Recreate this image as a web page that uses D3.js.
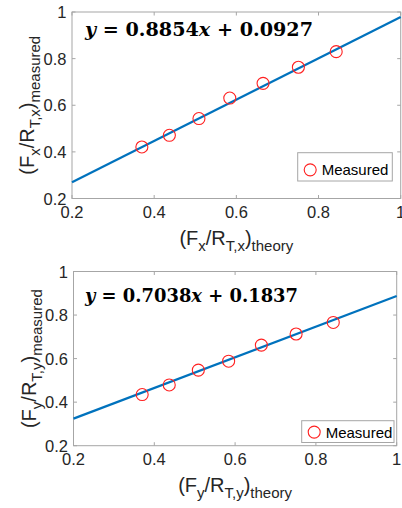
<!DOCTYPE html>
<html><head><meta charset="utf-8">
<script src="https://cdn.jsdelivr.net/npm/d3@7"></script>
<style>body{margin:0;background:#fff}svg{display:block}</style>
</head><body>
<script>
// ---- data ----
const ticks = [0.2, 0.4, 0.6, 0.8, 1];
const tickLabels = ["0.2", "0.4", "0.6", "0.8", "1"];
const theoryX = [0.37, 0.437, 0.509, 0.584, 0.665, 0.751, 0.843];
const measuredX = [0.421, 0.471, 0.543, 0.631, 0.694, 0.763, 0.83];
const theoryY = [0.37, 0.437, 0.509, 0.584, 0.665, 0.751, 0.843];
const measuredY = [0.435, 0.479, 0.547, 0.588, 0.662, 0.713, 0.766];
const fitX = { slope: 0.8854, intercept: 0.0927, label: ["0.8854", "0.0927"] };
const fitY = { slope: 0.7038, intercept: 0.1837, label: ["0.7038", "0.1837"] };
const legendLabel = "Measured";

const panels = [
  { xs: theoryX, ys: measuredX, fit: fitX, sub: "x",
    box: { x0: 72, x1: 400.7, y0: 198.5, y1: 12 },
    eq: { x: 85, y: 36, w: 228 }, leg: { x: 297.7, y: 152.7, w: 94.6, h: 28.3, dy: 3, ty: 8.5 } },
  { xs: theoryY, ys: measuredY, fit: fitY, sub: "y",
    box: { x0: 73.5, x1: 396.7, y0: 445.7, y1: 271.5 },
    eq: { x: 85, y: 302, w: 213 }, leg: { x: 301.7, y: 420.7, w: 92.3, h: 21.8, dy: 0.5, ty: 6 } }
];

const W = 402, H = 508;
const svg = d3.select("body").append("svg").attr("width", W).attr("height", H);
const font = "'Liberation Sans', Arial, Helvetica, sans-serif";
const textCol = "#262626";
const axisCol = "#a6a6a6";

function addLabel(sel, sub, tail) {
  sel.append("tspan").text("(F");
  sel.append("tspan").attr("font-size", 15).attr("dy", 6).text(sub);
  sel.append("tspan").attr("dy", -6).text("/R");
  sel.append("tspan").attr("font-size", 15).attr("dy", 6).text("T," + sub);
  sel.append("tspan").attr("dy", -6).text(")");
  sel.append("tspan").attr("font-size", 15).attr("dy", 6).text(tail);
}

panels.forEach(p => {
  const b = p.box;
  const x = d3.scaleLinear().domain([0.2, 1]).range([b.x0, b.x1]);
  const y = d3.scaleLinear().domain([0.2, 1]).range([b.y0, b.y1]);
  const g = svg.append("g");

  // box
  g.append("rect").attr("x", b.x0).attr("y", b.y1).attr("width", b.x1 - b.x0).attr("height", b.y0 - b.y1)
    .attr("fill", "#fff").attr("stroke", axisCol).attr("stroke-width", 1);

  // ticks (inward, on all sides)
  const tl = 3.5;
  ticks.forEach((t, i) => {
    g.append("line").attr("x1", x(t)).attr("x2", x(t)).attr("y1", b.y0).attr("y2", b.y0 - tl).attr("stroke", axisCol);
    g.append("line").attr("x1", x(t)).attr("x2", x(t)).attr("y1", b.y1).attr("y2", b.y1 + tl).attr("stroke", axisCol);
    g.append("line").attr("y1", y(t)).attr("y2", y(t)).attr("x1", b.x0).attr("x2", b.x0 + tl).attr("stroke", axisCol);
    g.append("line").attr("y1", y(t)).attr("y2", y(t)).attr("x1", b.x1).attr("x2", b.x1 - tl).attr("stroke", axisCol);
    g.append("text").attr("x", x(t)).attr("y", b.y0 + 19.5).attr("text-anchor", "middle")
      .attr("font-family", font).attr("font-size", 16.5).attr("fill", textCol).text(tickLabels[i]);
    g.append("text").attr("x", b.x0 - 5.5).attr("y", y(t) + 6).attr("text-anchor", "end")
      .attr("font-family", font).attr("font-size", 16.5).attr("fill", textCol).text(tickLabels[i]);
  });

  // fit line
  const fx = [0.2, 1];
  g.append("path").attr("d", d3.line().x(d => x(d)).y(d => y(p.fit.slope * d + p.fit.intercept))(fx))
    .attr("stroke", "#0072BD").attr("stroke-width", 2.2).attr("fill", "none");

  // markers
  g.selectAll("circle.m").data(p.xs).enter().append("circle")
    .attr("cx", d => x(d)).attr("cy", (d, i) => y(p.ys[i])).attr("r", 6)
    .attr("fill", "none").attr("stroke", "#ff2020").attr("stroke-width", 1.1);

  // equation
  const eq = g.append("text").attr("x", p.eq.x).attr("y", p.eq.y)
    .attr("font-family", "'DejaVu Serif', 'Liberation Serif', serif").attr("font-weight", "bold")
    .attr("font-size", 18.5).attr("fill", "#000")
    .attr("textLength", p.eq.w).attr("lengthAdjust", "spacingAndGlyphs");
  eq.append("tspan").attr("font-style", "italic").text("y");
  eq.append("tspan").text(" = " + p.fit.label[0]);
  eq.append("tspan").attr("font-style", "italic").text("x");
  eq.append("tspan").text(" + " + p.fit.label[1]);

  // legend
  const L = p.leg;
  g.append("rect").attr("x", L.x).attr("y", L.y).attr("width", L.w).attr("height", L.h)
    .attr("fill", "#fff").attr("stroke", axisCol).attr("stroke-width", 1);
  g.append("circle").attr("cx", L.x + 12.5).attr("cy", L.y + L.h / 2 + L.dy).attr("r", 6)
    .attr("fill", "none").attr("stroke", "#ff2020").attr("stroke-width", 1.1);
  g.append("text").attr("x", L.x + 24).attr("y", L.y + L.h / 2 + L.ty)
    .attr("font-family", font).attr("font-size", 15).attr("fill", "#000").text(legendLabel);

  // x label
  const xc = (b.x0 + b.x1) / 2;
  const xl = g.append("text").attr("x", xc).attr("y", b.y0 + 46).attr("text-anchor", "middle")
    .attr("font-family", font).attr("font-size", 20).attr("fill", textCol);
  addLabel(xl, p.sub, "theory");

  // y label
  const yc = (b.y0 + b.y1) / 2;
  const yl = g.append("text").attr("transform", `translate(${b.x0 - 38},${yc}) rotate(-90)`)
    .attr("text-anchor", "middle")
    .attr("font-family", font).attr("font-size", 20).attr("fill", textCol);
  addLabel(yl, p.sub, "measured");
});
</script>
</body></html>
